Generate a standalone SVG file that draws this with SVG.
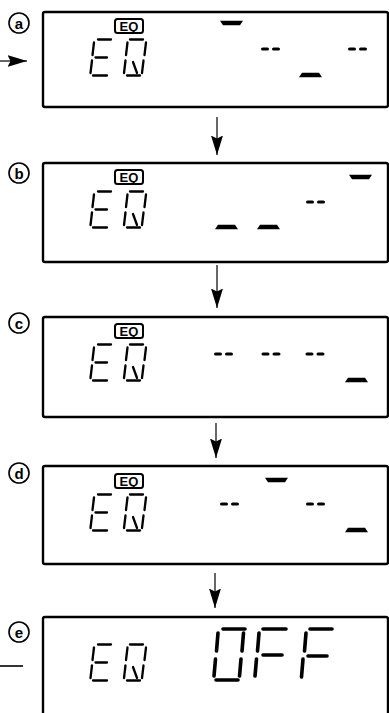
<svg xmlns="http://www.w3.org/2000/svg" xmlns:xlink="http://www.w3.org/1999/xlink" width="389" height="713" viewBox="0 0 389 713">
<style>
.panel{fill:#fff;stroke:#000;stroke-width:2.4}
.lbl circle{fill:#fff;stroke:#000;stroke-width:1.6}
.lbl text{font-family:"Liberation Sans",Arial,sans-serif;font-weight:bold;font-size:15px;text-anchor:middle;fill:#000}
.eqbox{fill:#fff;stroke:#000;stroke-width:2}
.eqtxt{font-family:"Liberation Sans",Arial,sans-serif;font-weight:bold;font-size:13px;text-anchor:middle;fill:#000}
.seg line{stroke:#000;stroke-width:2.3;stroke-linecap:round}
.big line{stroke:#000;stroke-width:3.6;stroke-linecap:round}
.conn line{stroke:#000;stroke-width:1.2}
</style>
<defs>
<marker id="ah" markerUnits="userSpaceOnUse" markerWidth="20" markerHeight="13" viewBox="0 0 20 13" refX="19.5" refY="6.5" orient="auto">
<path d="M0,0.5 L3,6.5 L0,12.5 L19.5,6.5 Z" fill="#000"/>
</marker>
<g id="digits" class="seg">
<line x1="98" y1="28.5" x2="111" y2="28.5"/>
<line x1="94" y1="31.5" x2="92.5" y2="44"/>
<line x1="95.5" y1="46.5" x2="107" y2="46.5"/>
<line x1="92" y1="49.5" x2="90.5" y2="62"/>
<line x1="93" y1="64.5" x2="107" y2="64.5"/>
<line x1="130" y1="28.5" x2="143" y2="28.5"/>
<line x1="127.5" y1="31.5" x2="126" y2="44"/>
<line x1="146" y1="31.5" x2="144.5" y2="44"/>
<line x1="125.5" y1="49.5" x2="124" y2="62"/>
<line x1="143.5" y1="49.5" x2="142" y2="62"/>
<line x1="127" y1="64.5" x2="140" y2="64.5"/>
<line x1="133" y1="51" x2="137" y2="62"/>
</g>
<g id="dd">
<rect x="0" y="-1.6" width="8" height="3.2" rx="1.6"/>
<rect x="11" y="-1.6" width="8" height="3.2" rx="1.6"/>
</g>
<polygon id="tb" points="0,-2.2 23,-2.2 20,2.2 3,2.2"/>
<polygon id="bb" points="3,-2.2 20,-2.2 23,2.2 0,2.2"/>
</defs>

<g id="connectors" class="conn">
<line x1="0" y1="61" x2="27" y2="61" marker-end="url(#ah)"/>
<line x1="217" y1="117" x2="217" y2="155" marker-end="url(#ah)"/>
<line x1="217" y1="265" x2="217" y2="308" marker-end="url(#ah)"/>
<line x1="216" y1="423" x2="216" y2="458" marker-end="url(#ah)"/>
<line x1="215" y1="573" x2="215" y2="608" marker-end="url(#ah)"/>
<line x1="0" y1="666" x2="23" y2="666" style="stroke-width:1.6"/>
</g>

<g id="node-a">
<rect class="panel" x="43" y="12" width="345" height="95" rx="2"/>
<g class="lbl"><circle cx="19" cy="23" r="10"/><text x="19" y="28.5">a</text></g>
<rect class="eqbox" x="115" y="19" width="28" height="14" rx="2.5"/>
<text class="eqtxt" x="129" y="30.7">EQ</text>
<use xlink:href="#digits" transform="translate(0,11)"/>
<use xlink:href="#tb" transform="translate(220,23)"/>
<use xlink:href="#dd" transform="translate(261,49)"/>
<use xlink:href="#dd" transform="translate(348,49)"/>
<use xlink:href="#bb" transform="translate(299,75)"/>
</g>

<g id="node-b">
<rect class="panel" x="43" y="163" width="345" height="99" rx="2"/>
<g class="lbl"><circle cx="19" cy="173" r="10"/><text x="19" y="178.5">b</text></g>
<rect class="eqbox" x="115" y="170" width="28" height="14" rx="2.5"/>
<text class="eqtxt" x="129" y="181.7">EQ</text>
<use xlink:href="#digits" transform="translate(0,163)"/>
<use xlink:href="#tb" transform="translate(349,177)"/>
<use xlink:href="#dd" transform="translate(306,202)"/>
<use xlink:href="#bb" transform="translate(215,227)"/>
<use xlink:href="#bb" transform="translate(257,227)"/>
</g>

<g id="node-c">
<rect class="panel" x="43" y="317" width="345" height="100" rx="2"/>
<g class="lbl"><circle cx="19" cy="323" r="10"/><text x="19" y="328.5">c</text></g>
<rect class="eqbox" x="115" y="324" width="28" height="14" rx="2.5"/>
<text class="eqtxt" x="129" y="335.7">EQ</text>
<use xlink:href="#digits" transform="translate(0,316)"/>
<use xlink:href="#dd" transform="translate(214,354)"/>
<use xlink:href="#dd" transform="translate(261.5,354)"/>
<use xlink:href="#dd" transform="translate(305.5,354)"/>
<use xlink:href="#bb" transform="translate(345,380)"/>
</g>

<g id="node-d">
<rect class="panel" x="43" y="466" width="345" height="98" rx="2"/>
<g class="lbl"><circle cx="19" cy="473" r="10"/><text x="19" y="478.5">d</text></g>
<rect class="eqbox" x="115" y="474" width="28" height="14" rx="2.5"/>
<text class="eqtxt" x="129" y="485.7">EQ</text>
<use xlink:href="#digits" transform="translate(0,466)"/>
<use xlink:href="#tb" transform="translate(265,480)"/>
<use xlink:href="#dd" transform="translate(220,504)"/>
<use xlink:href="#dd" transform="translate(306,504)"/>
<use xlink:href="#bb" transform="translate(345,530)"/>
</g>

<g id="node-e">
<rect class="panel" x="43" y="617" width="345" height="110" rx="2"/>
<g class="lbl"><circle cx="19" cy="632" r="10"/><text x="19" y="637.5">e</text></g>
<use xlink:href="#digits" transform="translate(0,616)"/>
<g class="big">
<line x1="223" y1="629" x2="245" y2="629"/>
<line x1="218" y1="633" x2="216.5" y2="651"/>
<line x1="243.5" y1="633" x2="242" y2="651"/>
<line x1="215.5" y1="659" x2="214" y2="676"/>
<line x1="241" y1="659" x2="239.5" y2="676"/>
<line x1="216" y1="680" x2="238" y2="680"/>
<line x1="263" y1="629" x2="286" y2="629"/>
<line x1="259" y1="633" x2="257.5" y2="651"/>
<line x1="256.5" y1="659" x2="255" y2="676"/>
<line x1="263" y1="655" x2="282" y2="655"/>
<line x1="310" y1="629" x2="332" y2="629"/>
<line x1="306" y1="633" x2="304.5" y2="651"/>
<line x1="303" y1="659" x2="301.5" y2="677"/>
<line x1="308" y1="656" x2="327" y2="656"/>
</g>
</g>
</svg>
